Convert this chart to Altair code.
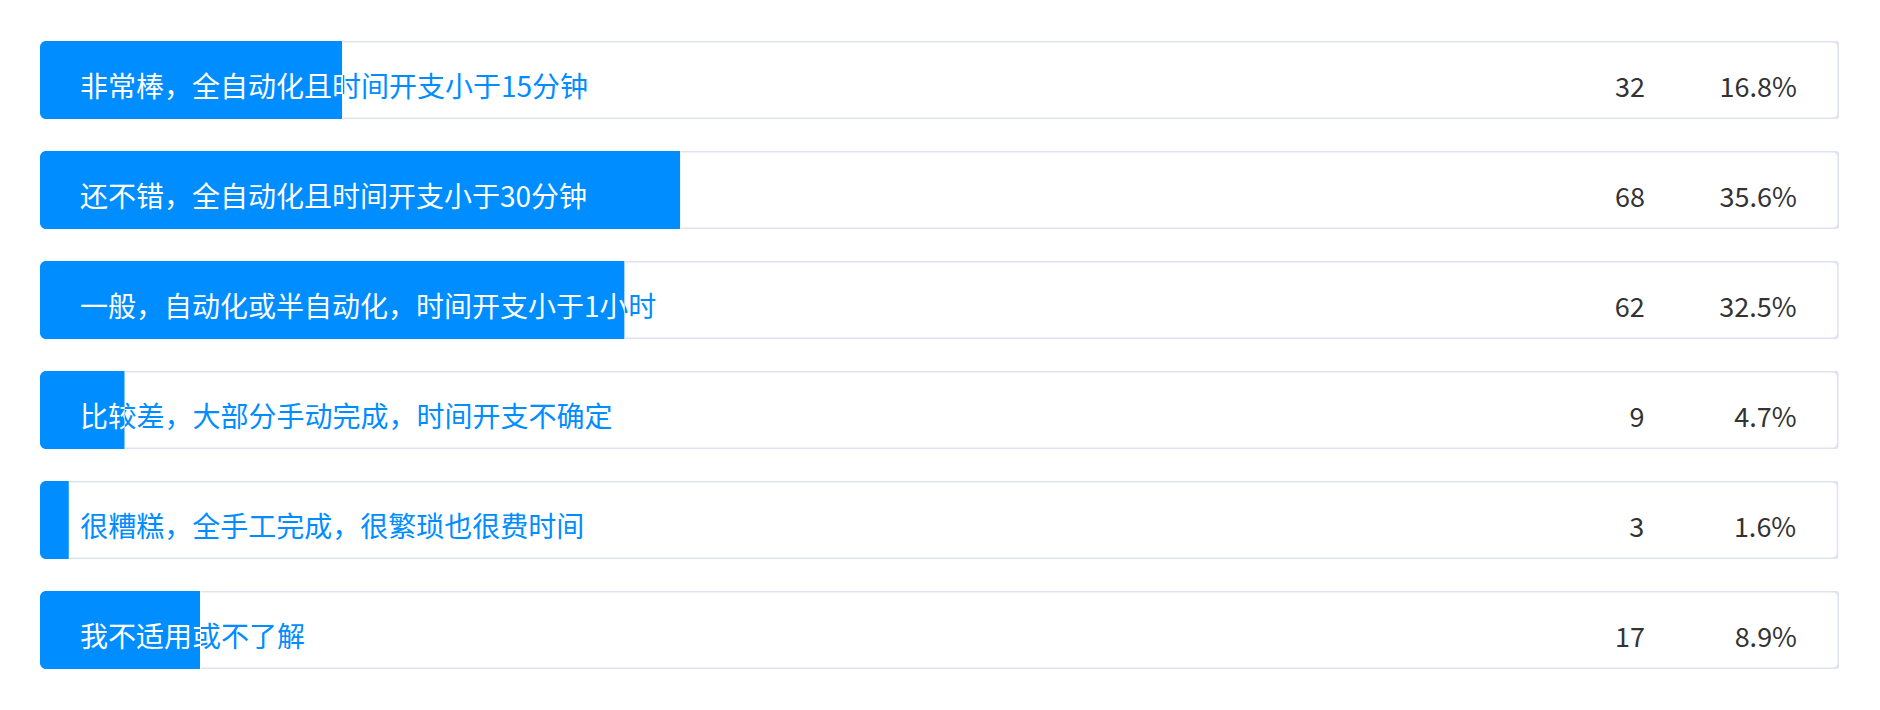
import altair as alt
import pandas as pd

labels = [
    "非常棒，全自动化且时间开支小于15分钟",
    "还不错，全自动化且时间开支小于30分钟",
    "一般，自动化或半自动化，时间开支小于1小时",
    "比较差，大部分手动完成，时间开支不确定",
    "很糟糕，全手工完成，很繁琐也很费时间",
    "我不适用或不了解",
]
counts = [32, 68, 62, 9, 3, 17]
percents = [16.8, 35.6, 32.5, 4.7, 1.6, 8.9]

W = 1798          # track width (px)
ROW_H = 78        # track height (px)
GAP = 32          # gap between tracks (px)
BLUE = "#008DFF"
BORDER = "#DFE3F1"
FONT = "Noto Sans CJK SC"
LABEL_X = 40      # label start, from track's left edge
COUNT_X = 1604    # right edge of count column
PCT_X = 1756      # right edge of percent column
DY = 17

df = pd.DataFrame({
    "idx": list(range(len(labels))),
    "label": labels,
    "count": counts,
    "pct": percents,
    "start": [0] * len(labels),
    "full": [100] * len(labels),
    "pct_text": [f"{p:.1f}%" for p in percents],
})

rows = []
for i, p in enumerate(percents):
    lw = p / 100 * W
    src = alt.Chart(df).transform_filter(alt.datum.idx == i)
    xl = alt.Scale(domain=[0, p], nice=False, zero=False)
    xr = alt.Scale(domain=[p, 100], nice=False, zero=False)

    # part of the track covered by the blue fill
    left = alt.layer(
        src.mark_bar(color=BLUE, cornerRadiusTopLeft=6, cornerRadiusBottomLeft=6).encode(
            x=alt.X("start:Q", scale=xl, axis=None), x2="pct:Q",
            y=alt.value(0), y2=alt.value(ROW_H)),
        src.mark_text(align="left", baseline="alphabetic", dy=DY, font=FONT,
                      fontSize=28, color="white", clip=True).encode(
            x=alt.value(LABEL_X), y=alt.value(ROW_H / 2), text="label:N"),
    ).properties(width=lw, height=ROW_H)

    # remaining, empty part of the track
    right = alt.layer(
        src.mark_bar(fill="white", stroke=BORDER, strokeWidth=3, cornerRadius=6,
                     clip=True).encode(
            x=alt.X("start:Q", scale=xr, axis=None), x2="full:Q",
            y=alt.value(0), y2=alt.value(ROW_H)),
        src.mark_text(align="left", baseline="alphabetic", dy=DY, font=FONT,
                      fontSize=28, color=BLUE, clip=True).encode(
            x=alt.value(LABEL_X - lw), y=alt.value(ROW_H / 2), text="label:N"),
        src.mark_text(align="right", baseline="alphabetic", dy=DY, font=FONT,
                      fontSize=27, color="#333333").encode(
            x=alt.value(COUNT_X - lw), y=alt.value(ROW_H / 2), text="count:Q"),
        src.mark_text(align="right", baseline="alphabetic", dy=DY, font=FONT,
                      fontSize=27, color="#333333").encode(
            x=alt.value(PCT_X - lw), y=alt.value(ROW_H / 2), text="pct_text:N"),
    ).properties(width=W - lw, height=ROW_H)

    rows.append(alt.hconcat(left, right, spacing=0))

chart = alt.vconcat(*rows, spacing=GAP).properties(
    padding={"left": 40, "top": 41, "right": 0, "bottom": 0},
    background="white",
).configure_view(stroke=None)

chart.save("out.html", embed_options={"renderer": "svg", "actions": False})
